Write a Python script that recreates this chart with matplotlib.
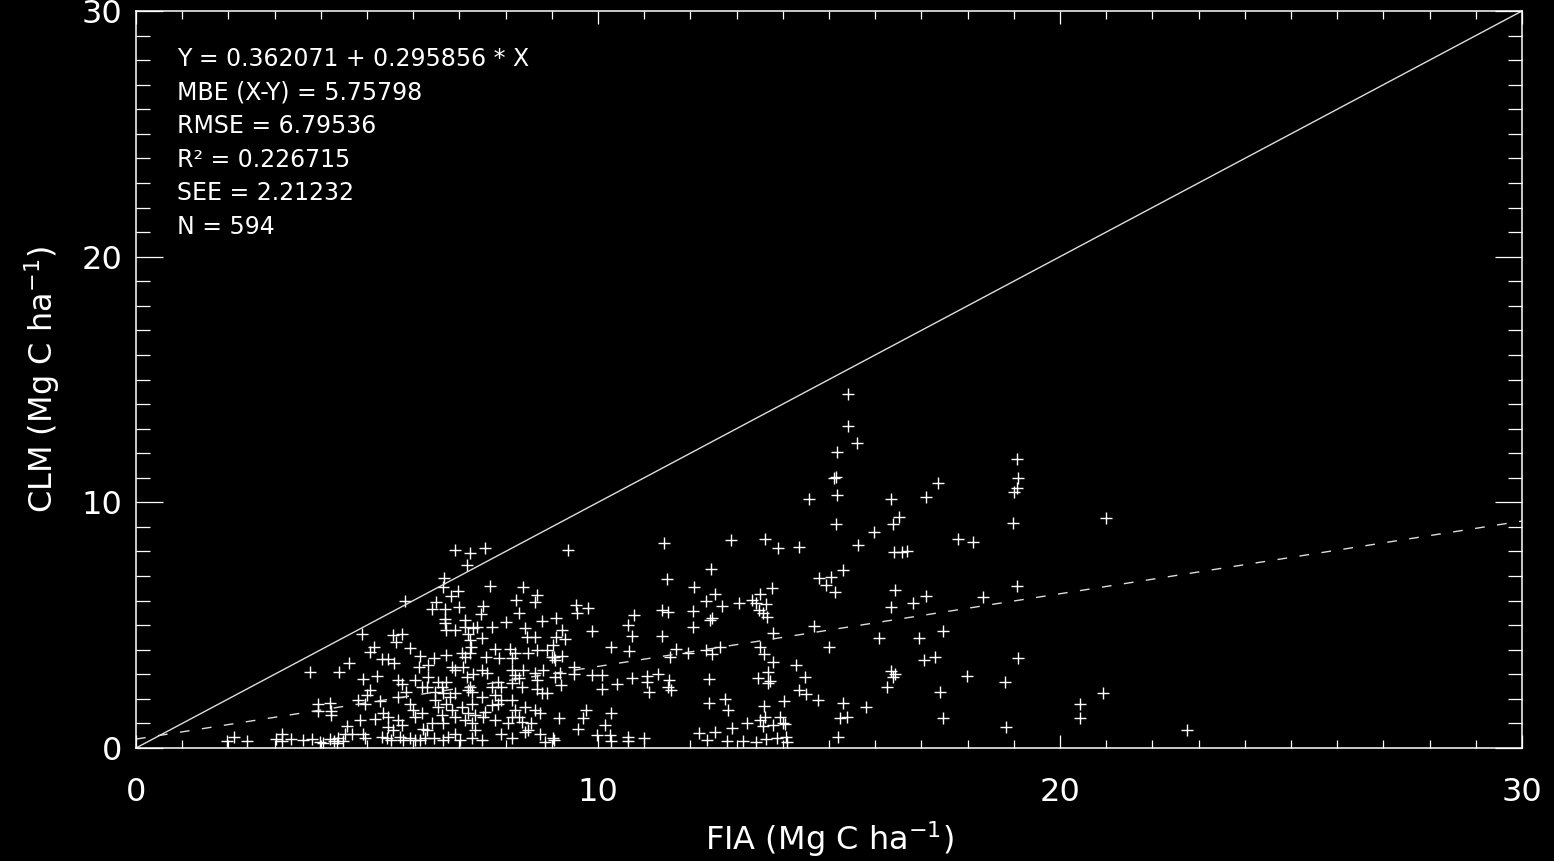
import matplotlib.pyplot as plt
import numpy as np

# FIA vs CLM carbon (Mg C/ha)
fia = [
    # low x, near the 1:1 line
    3.77, 4.40, 4.61, 3.95, 3.95, 4.20, 4.22, 4.22, 4.56, 4.67, 4.52, 1.96, 2.12, 2.41,
    3.02, 3.15, 3.17, 3.35, 3.62, 3.82, 3.98, 4.20, 4.29, 4.38, 4.49, 4.05, 4.34,
    # dense cluster 5-9
    6.90, 7.24, 7.55, 7.16, 6.67, 6.65, 6.96, 6.81, 5.82, 6.49, 6.41, 6.69, 6.99, 6.69,
    6.69, 6.70, 6.90, 7.12, 7.12, 7.30, 7.39, 7.19, 7.23, 7.25, 7.23, 7.12, 7.48, 7.52,
    7.47, 7.71, 7.66, 8.37, 8.22, 8.69, 8.64, 8.29, 8.01, 8.78, 8.41, 8.46, 8.64, 9.36,
    4.90, 5.57, 5.75, 5.62, 5.16, 5.06, 5.93, 5.32, 5.46, 5.59, 6.15, 6.44, 6.31, 6.13,
    6.72, 7.05, 7.57, 7.77, 7.86, 8.09, 8.20, 8.13, 8.49, 8.67, 8.89, 9.03, 9.00, 9.07,
    6.83, 6.90, 7.08, 7.30, 7.48, 7.59, 8.13, 8.20, 8.38, 8.64, 8.67, 8.82, 4.92, 5.21,
    5.68, 5.75, 6.04, 6.18, 6.33, 6.53, 6.62, 6.72, 7.16, 7.23, 7.27, 7.70, 7.84, 7.91,
    8.13, 8.28, 8.35, 8.67, 8.78, 8.89, 5.06, 4.99, 4.81, 4.96, 5.28, 5.68, 5.84, 5.93,
    6.00, 6.18, 6.29, 6.47, 6.64, 6.80, 6.90, 7.19, 7.48, 7.77, 7.91, 7.84, 6.47, 6.54,
    6.72, 6.83, 7.05, 7.27, 7.19, 7.34, 7.55, 7.70, 8.13, 8.20, 8.42, 8.64, 8.74, 8.28,
    4.85, 5.17, 5.35, 5.46, 5.68, 6.04, 6.22, 6.29, 6.40, 6.62, 6.65, 6.90, 7.12, 7.27,
    7.34, 7.52, 7.77, 8.06, 8.13, 8.35, 8.49, 8.56, 4.92, 4.96, 5.32, 5.43, 5.53, 5.71,
    5.79, 5.93, 6.04, 6.15, 6.26, 6.44, 6.65, 6.76, 6.90, 7.01, 7.27, 7.48, 7.91, 8.13,
    8.42, 8.74, 8.85, 9.03, 5.46, 5.75, 5.57,
    # 9-15
    12.08, 12.33, 12.53, 12.69, 13.05, 13.34, 13.51, 13.64, 13.48, 13.58, 13.66, 13.41,
    13.77, 14.93, 15.14, 16.43, 16.34, 16.81, 17.11, 18.34, 17.46, 16.95, 16.08, 15.00,
    14.67, 13.79, 17.29, 17.06, 16.34, 16.43, 16.39, 16.25, 17.99, 17.40, 17.46, 15.80,
    15.31, 15.24, 15.38, 15.19, 14.77, 14.47, 14.28, 14.36, 14.50, 14.03, 13.79, 13.59,
    13.69, 13.47, 13.69, 13.72, 13.50, 13.59, 13.51, 13.61, 13.58, 13.94, 14.01, 14.05,
    13.79, 12.91, 13.22, 12.82, 12.75, 12.41, 12.41, 12.63, 12.46, 12.46, 12.42, 12.05,
    12.05, 12.34, 11.95, 11.69, 11.56, 11.52, 11.57, 11.54, 11.29, 11.05, 11.05, 11.10,
    10.74, 10.42, 10.09, 10.68, 10.66, 10.79, 10.74, 10.29, 11.38, 11.38, 11.52, 9.88,
    9.52, 9.54, 9.78, 9.09, 9.23, 9.28, 9.10, 9.21, 9.05, 9.49, 9.48, 9.18, 9.07, 9.20,
    9.86, 10.09, 9.73, 9.68, 9.57, 9.16, 10.15, 10.29, 9.97, 10.26, 10.29, 10.66, 10.66,
    10.99, 9.05, 12.19, 12.35, 12.53, 12.80, 13.13, 13.41, 13.64, 13.87, 14.08, 14.10,
    # upper cloud 11-18
    15.42, 15.42, 15.60, 15.18, 15.11, 15.16, 15.18, 14.57, 15.16, 16.34, 16.52, 16.39,
    17.11, 17.36, 15.98, 15.62, 16.40, 16.57, 16.69, 17.80, 18.12, 11.43, 12.87, 13.61,
    13.90, 14.35, 12.44, 15.31, 15.05, 14.79, 11.50,
    # far right
    19.07, 19.10, 19.08, 19.00, 18.99, 21.00, 19.07, 19.10, 18.82, 20.92, 20.44, 20.44,
    18.84, 22.75,
]
clm = [
    3.10, 3.10, 3.47, 1.81, 1.50, 1.84, 1.50, 1.34, 0.89, 0.59, 0.57, 0.29, 0.46, 0.29,
    0.35, 0.59, 0.29, 0.35, 0.32, 0.35, 0.25, 0.35, 0.29, 0.39, 0.29, 0.19, 0.19,
    8.06, 7.92, 8.16, 7.45, 6.94, 6.56, 6.39, 6.18, 5.99, 5.95, 5.64, 5.64, 5.75, 5.27,
    5.07, 4.80, 4.80, 5.23, 4.94, 4.87, 4.91, 4.66, 4.39, 4.12, 3.85, 3.71, 4.46, 5.78,
    5.45, 4.94, 6.60, 6.54, 6.02, 6.22, 5.95, 5.48, 5.14, 5.18, 4.87, 4.53, 4.53, 8.06,
    4.66, 4.60, 4.64, 4.32, 4.12, 3.92, 4.09, 3.61, 3.61, 3.44, 3.74, 3.65, 3.37, 3.28,
    3.78, 3.85, 3.71, 4.05, 3.65, 4.05, 3.85, 3.65, 3.88, 3.99, 3.99, 4.19, 3.71, 3.58,
    3.31, 3.17, 3.31, 3.01, 3.17, 3.04, 3.17, 2.97, 3.17, 3.04, 2.76, 3.17, 2.80, 2.94,
    2.76, 2.60, 2.76, 2.49, 2.90, 2.70, 2.49, 2.70, 2.90, 2.49, 2.29, 2.49, 2.70, 2.49,
    2.63, 2.83, 2.49, 2.42, 2.22, 2.22, 2.38, 2.15, 1.95, 1.81, 1.92, 2.09, 2.29, 1.81,
    1.54, 1.43, 2.49, 2.29, 2.22, 2.09, 2.22, 2.36, 2.09, 2.15, 1.95, 1.81, 1.95, 1.68,
    1.81, 1.54, 1.68, 1.81, 1.41, 1.34, 1.48, 1.75, 1.95, 1.54, 1.68, 1.54, 1.41, 1.27,
    1.14, 1.20, 1.41, 1.27, 1.14, 1.27, 0.77, 0.73, 1.00, 1.34, 1.00, 1.27, 1.14, 1.00,
    0.73, 1.27, 1.14, 1.00, 1.27, 1.07, 0.73, 1.00, 0.59, 0.39, 0.46, 0.39, 0.32, 0.46,
    0.32, 0.39, 0.32, 0.32, 0.39, 0.39, 0.32, 0.46, 0.59, 0.32, 0.39, 0.32, 0.59, 0.39,
    0.66, 0.57, 0.25, 0.39, 0.87, 0.93, 0.73,
    6.54, 6.00, 6.26, 5.79, 5.89, 6.02, 6.26, 5.86, 5.62, 5.48, 5.35, 5.89,
    6.53, 6.64, 6.34, 6.43, 5.75, 5.89, 6.19, 6.13, 4.78, 4.49, 4.49, 4.10,
    4.97, 4.67, 3.72, 3.58, 3.15, 3.01, 2.88, 2.50, 2.93, 2.29, 1.21, 1.68,
    1.82, 1.21, 1.28, 0.46, 1.95, 2.88, 3.38, 2.36, 2.20, 1.93, 3.51, 3.81,
    3.08, 2.84, 2.63, 2.73, 4.13, 1.72, 1.14, 1.28, 0.90, 1.28, 1.00, 0.96,
    0.94, 0.83, 1.00, 1.55, 1.98, 1.82, 2.80, 4.13, 3.83, 5.28, 5.21, 5.59,
    4.91, 3.99, 3.85, 4.02, 3.72, 2.50, 2.36, 2.77, 3.00, 2.93, 2.70, 2.29,
    2.84, 2.59, 2.39, 3.96, 5.01, 5.41, 4.57, 4.10, 4.57, 5.62, 5.55, 4.78,
    5.82, 5.51, 5.69, 5.31, 4.80, 4.42, 4.53, 3.75, 3.69, 3.28, 3.01, 3.07, 2.90, 2.56,
    2.97, 2.97, 1.55, 1.21, 0.76, 1.21, 0.94, 1.44, 0.53, 0.53, 0.30, 0.46, 0.30,
    0.42, 0.33, 0.60, 0.33, 0.66, 0.30, 0.30, 0.23, 0.37, 0.39, 0.46, 0.23,
    14.41, 13.11, 12.43, 12.06, 10.98, 11.05, 10.30, 10.12, 9.10, 10.12, 9.39, 9.10,
    10.20, 10.77, 8.81, 8.26, 7.99, 7.99, 8.03, 8.51, 8.40, 8.33, 8.47, 8.51,
    8.13, 8.20, 7.29, 7.25, 6.97, 6.91, 6.87,
    11.75, 10.98, 10.57, 10.43, 9.17, 9.35, 6.61, 3.68, 2.70, 2.23, 1.79, 1.23,
    0.87, 0.73,
]

# regression and stats printed on the plot
intercept = 0.362071
slope = 0.295856
stats = ['Y = 0.362071 + 0.295856 * X',
         'MBE (X-Y) = 5.75798',
         'RMSE = 6.79536',
         'R² = 0.226715',
         'SEE = 2.21232',
         'N = 594']

fig = plt.figure(figsize=(15.54, 8.61), dpi=100, facecolor='black')
ax = fig.add_axes([136/1554, 1 - 748/861, 1386/1554, 737/861], facecolor='black')

ax.plot(fia, clm, '+', color='white', markersize=9, mew=1.0, linestyle='none')

xx = np.array([0, 30])
ax.plot(xx, xx, color='#dddddd', lw=1.0)
ax.plot(xx, intercept + slope * xx, color='#dddddd', lw=1.0, dashes=(7, 9))

ax.set_xlim(0, 30)
ax.set_ylim(0, 30)
ax.set_xticks([0, 10, 20, 30])
ax.set_yticks([0, 10, 20, 30])
ax.set_xticks(np.arange(0, 31, 1), minor=True)
ax.set_yticks(np.arange(0, 31, 1), minor=True)

for s in ax.spines.values():
    s.set_color('white')
    s.set_linewidth(1.1)

ax.tick_params(axis='both', which='both', direction='in', colors='white',
               top=True, right=True, width=0.9, labelsize=23)
ax.tick_params(axis='x', which='major', length=9.5, pad=21)
ax.tick_params(axis='x', which='minor', length=5.5)
ax.tick_params(axis='y', which='major', length=19.5, pad=10)
ax.tick_params(axis='y', which='minor', length=10)

ax.set_xlabel(r'FIA (Mg C ha$^{-1}$)', color='white', fontsize=23, labelpad=8)
ax.set_ylabel(r'CLM (Mg C ha$^{-1}$)', color='white', fontsize=23, labelpad=14)

for i, line in enumerate(stats):
    ax.text(0.0296, 0.935 - i * 0.0455, line, transform=ax.transAxes,
            color='white', fontsize=17, va='center', ha='left')

plt.savefig('out.png', dpi=100, facecolor='black')
